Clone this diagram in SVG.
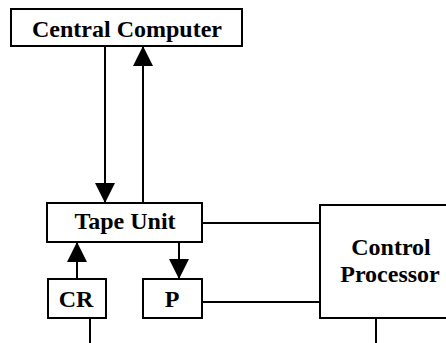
<svg xmlns="http://www.w3.org/2000/svg" width="446" height="343" viewBox="0 0 446 343">
<style>
.box{fill:#fff;stroke:#000;stroke-width:2}
.lbl{font-family:"Liberation Serif","Times New Roman",serif;font-weight:bold;font-size:24px;fill:#000;text-anchor:middle}
.ln{stroke:#000;stroke-width:2;fill:none}
</style>
<defs>
<marker id="ah" viewBox="0 0 20 20" refX="20" refY="10" markerWidth="20" markerHeight="20" markerUnits="userSpaceOnUse" orient="auto">
<path d="M0,0 L20,10 L0,20 Z" fill="#000"/>
</marker>
</defs>
<rect width="446" height="343" fill="#fff"/>
<g id="connectors">
<line class="ln" x1="105" y1="46" x2="105" y2="203" marker-end="url(#ah)"/>
<line class="ln" x1="143" y1="203" x2="143" y2="46" marker-end="url(#ah)"/>
<line class="ln" x1="77" y1="279" x2="77" y2="242" marker-end="url(#ah)"/>
<line class="ln" x1="179" y1="242" x2="179" y2="279" marker-end="url(#ah)"/>
<line class="ln" x1="202" y1="223" x2="320" y2="223"/>
<line class="ln" x1="202" y1="302" x2="320" y2="302"/>
<line class="ln" x1="90" y1="318" x2="90" y2="343"/>
<line class="ln" x1="376" y1="318" x2="376" y2="343"/>
</g>
<g id="central-computer">
<rect class="box" x="11" y="9" width="231" height="37"/>
<text class="lbl" x="127" y="37">Central Computer</text>
</g>
<g id="tape-unit">
<rect class="box" x="47" y="203" width="155" height="39"/>
<text class="lbl" x="125" y="229">Tape Unit</text>
</g>
<g id="cr">
<rect class="box" x="48" y="279" width="58" height="39"/>
<text class="lbl" x="76" y="307">CR</text>
</g>
<g id="p">
<rect class="box" x="143" y="279" width="59" height="39"/>
<text class="lbl" x="172" y="307">P</text>
</g>
<g id="control-processor">
<rect class="box" x="320" y="205" width="140" height="113"/>
<text class="lbl" x="391" y="255">Control</text>
<text class="lbl" x="390" y="282">Processor</text>
</g>
</svg>
